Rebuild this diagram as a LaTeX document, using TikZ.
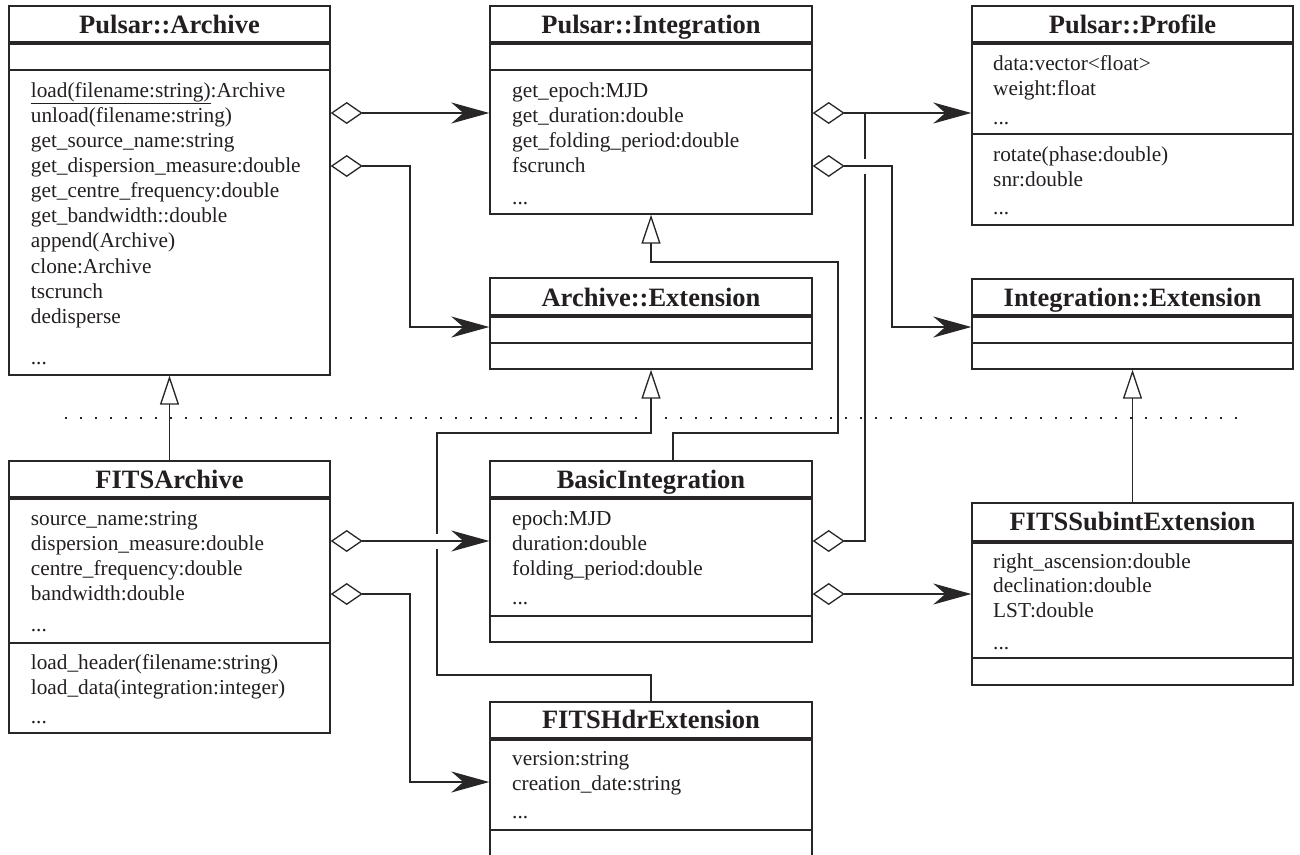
\documentclass[tikz,border=0pt]{standalone}
\usepackage{fontspec}
\setmainfont{Liberation Serif}
\usetikzlibrary{arrows.meta,fit}
\definecolor{ink}{RGB}{35,31,32}
\definecolor{stroke}{RGB}{40,38,38}
\newcommand\bodyfont{\fontsize{21.3}{25}\selectfont}
\newcommand\headfont{\fontsize{26.5}{30}\selectfont\bfseries}
% name, x1, y1, x2, y2, title baseline, heavy rule y, light rule y, title
\newcommand\umlclass[9]{%
  \node[classbox, fit={(#2,#3) (#4,#5)}] (#1) {};
  \draw[heavyrule] (#2,#7) -- (#4,#7);
  \draw[lightrule] (#2,#8) -- (#4,#8);
  \node[classtitle] (#1-title) at ({(#2+#4)/2},#6) {#9};
}
\newcommand\umlline[4]{\node[classtext] (#1) at (#2,#3) {#4};}
\begin{document}
\begin{tikzpicture}[x=1pt,y=-1pt,
  classbox/.style={draw=stroke, line width=1.4pt, inner sep=0pt},
  heavyrule/.style={draw=stroke, line width=4pt},
  lightrule/.style={draw=stroke, line width=1.7pt},
  classtitle/.style={anchor=base, inner sep=0pt, font=\headfont, text=ink},
  classtext/.style={anchor=base west, inner sep=0pt, font=\bodyfont, text=ink},
  conn/.style={draw=stroke, line width=1.3pt},
  agg/.style={conn, {Diamond[open,length=32pt,width=22pt]}-{Stealth[length=38pt,width=21pt,inset=12pt]}},
  aggonly/.style={conn, {Diamond[open,length=32pt,width=22pt]}-},
  gen/.style={conn, -{Triangle[open,length=29pt,width=19pt]}},
  eraser/.style={draw=white, line width=4pt},
  sepline/.style={draw=stroke, line width=1.6pt, dash pattern=on 2pt off 13pt}
]
\useasboundingbox (0,0) rectangle (1300,854);
\clip (0,0) rectangle (1300,854);

% ---------- classes ----------
\umlclass{archive}{9}{6}{330}{375}{33}{43}{70}{Pulsar::Archive}
\umlclass{integ}{490}{6}{812}{214}{33}{43}{70}{Pulsar::Integration}
\umlclass{profile}{972}{6}{1293}{225}{33}{43}{134}{Pulsar::Profile}
\umlclass{aext}{490}{278}{812}{369}{306}{316}{343}{Archive::Extension}
\umlclass{iext}{972}{279}{1293}{369}{306}{316}{343}{Integration::Extension}
\umlclass{farch}{9}{461}{330}{733}{488}{498}{643}{FITSArchive}
\umlclass{basic}{490}{461}{812}{642}{488}{498}{616}{BasicIntegration}
\umlclass{hdr}{490}{702}{812}{880}{728}{739}{830}{FITSHdrExtension}
\umlclass{subint}{972}{503}{1293}{685}{530}{542}{658}{FITSSubintExtension}

% ---------- texts ----------
\umlline{a1}{30.7}{97}{\underline{load(filename:string)}:Archive}
\umlline{a2}{30.7}{122}{unload(filename:string)}
\umlline{a3}{30.7}{147}{get\_source\_name:string}
\umlline{a4}{30.7}{172.2}{get\_dispersion\_measure:double}
\umlline{a5}{30.7}{197.4}{get\_centre\_frequency:double}
\umlline{a6}{30.7}{222.6}{get\_bandwidth::double}
\umlline{a7}{30.7}{247.8}{append(Archive)}
\umlline{a8}{30.7}{273}{clone:Archive}
\umlline{a9}{30.7}{298}{tscrunch}
\umlline{a10}{30.7}{323}{dedisperse}
\umlline{a11}{30.7}{364}{...}

\umlline{i1}{512}{97}{get\_epoch:MJD}
\umlline{i2}{512}{122}{get\_duration:double}
\umlline{i3}{512}{147}{get\_folding\_period:double}
\umlline{i4}{512}{172.3}{fscrunch}
\umlline{i5}{512}{204}{...}

\umlline{p1}{993}{70}{data:vector<float>}
\umlline{p2}{993}{95}{weight:float}
\umlline{p3}{993}{124}{...}
\umlline{p4}{993}{161.7}{rotate(phase:double)}
\umlline{p5}{993}{186}{snr:double}
\umlline{p6}{993}{214}{...}

\umlline{f1}{30.7}{525}{source\_name:string}
\umlline{f2}{30.7}{550}{dispersion\_measure:double}
\umlline{f3}{30.7}{575.3}{centre\_frequency:double}
\umlline{f4}{30.7}{600.6}{bandwidth:double}
\umlline{f5}{30.7}{631}{...}
\umlline{f6}{30.7}{669}{load\_header(filename:string)}
\umlline{f7}{30.7}{694.5}{load\_data(integration:integer)}
\umlline{f8}{30.7}{723}{...}

\umlline{b1}{512}{525}{epoch:MJD}
\umlline{b2}{512}{550}{duration:double}
\umlline{b3}{512}{575.3}{folding\_period:double}
\umlline{b4}{512}{604}{...}

\umlline{h1}{512}{765.7}{version:string}
\umlline{h2}{512}{790.5}{creation\_date:string}
\umlline{h3}{512}{818.5}{...}

\umlline{s1}{993}{568}{right\_ascension:double}
\umlline{s2}{993}{592.7}{declination:double}
\umlline{s3}{993}{617.3}{LST:double}
\umlline{s4}{993}{649}{...}

% ---------- routing coordinates ----------
\coordinate (r113) at (0,113);
\coordinate (r166) at (0,166);
\coordinate (r262) at (0,262);
\coordinate (r327) at (0,327);
\coordinate (r433) at (0,433);
\coordinate (r541) at (0,541);
\coordinate (r594) at (0,594);
\coordinate (r675) at (0,675);
\coordinate (r782) at (0,782);
\coordinate (c410) at (410,0);
\coordinate (c437) at (437,0);
\coordinate (c673) at (673,0);
\coordinate (c838) at (838,0);
\coordinate (c865) at (865,0);
\coordinate (c892) at (892,0);
\coordinate (dotL) at (65,418);
\coordinate (dotR) at (1237,418);

% ---------- package separator ----------
\draw[sepline] (dotL) -- (dotR);

% ---------- generalizations ----------
\draw[gen] (farch.north) -- (archive.south);
\draw[gen] (subint.north) -- (iext.south);
\draw[gen] (c673 |- basic.north) |- (c838 |- r433) -- (c838 |- r262) -| (integ.south);
\draw[gen] (hdr.north) |- (c437 |- r675) -- (c437 |- r433) -| (aext.south);

% ---------- aggregations ----------
\draw[agg] (archive.east |- r113) -- (integ.west |- r113);
\draw[agg] (archive.east |- r166) -| (c410 |- r327) -- (aext.west |- r327);
\draw[agg] (integ.east |- r113) -- (profile.west |- r113);
\draw[aggonly] (basic.east |- r541) -| (c865 |- r113);

\coordinate (k1) at (c865 |- r166);
\draw[eraser] ([yshift=7.5pt]k1) -- ([yshift=-7.5pt]k1);
\draw[agg] (integ.east |- r166) -| (c892 |- r327) -- (iext.west |- r327);

\coordinate (k2) at (c437 |- r541);
\draw[eraser] ([yshift=7.5pt]k2) -- ([yshift=-7.5pt]k2);
\draw[agg] (farch.east |- r541) -- (basic.west |- r541);

\draw[agg] (farch.east |- r594) -| (c410 |- r782) -- (hdr.west |- r782);
\draw[agg] (basic.east |- r594) -- (subint.west |- r594);
\end{tikzpicture}
\end{document}
